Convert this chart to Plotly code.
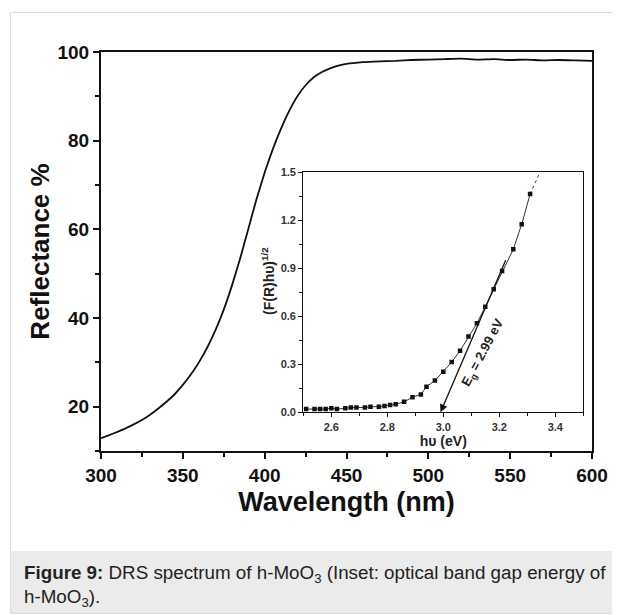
import plotly.graph_objects as go

# ---------------- data ----------------
wavelength = [300, 305, 310, 315, 320, 325, 330, 335, 340, 345, 350, 355, 360, 365,
              370, 375, 380, 385, 390, 395, 400, 405, 410, 415, 420, 425, 430, 435,
              440, 445, 450, 460, 470, 480, 490, 500, 510, 520, 530, 540, 550, 560,
              570, 580, 590, 600]
reflectance = [12.9, 13.6, 14.3, 15.1, 16.0, 17.0, 18.2, 19.6, 21.1, 22.8, 24.9, 27.3,
               30.1, 33.4, 37.3, 41.9, 47.3, 53.4, 60.1, 66.8, 72.8, 78.1, 82.7, 86.7,
               90.0, 92.5, 94.3, 95.5, 96.3, 96.9, 97.3, 97.7, 97.9, 98.0, 98.2, 98.3,
               98.4, 98.5, 98.3, 98.4, 98.2, 98.3, 98.1, 98.2, 98.1, 98.0]

photon_energy = [2.51, 2.54, 2.56, 2.58, 2.60, 2.62, 2.65, 2.67, 2.69, 2.72, 2.74, 2.77,
                 2.79, 2.81, 2.83, 2.86, 2.89, 2.92, 2.94, 2.97, 3.00, 3.03, 3.06, 3.09,
                 3.12, 3.15, 3.18, 3.21, 3.25, 3.28, 3.31]
kubelka = [0.02, 0.02, 0.02, 0.02, 0.025, 0.02, 0.025, 0.03, 0.03, 0.03, 0.035, 0.035,
           0.04, 0.045, 0.05, 0.066, 0.094, 0.112, 0.16, 0.198, 0.254, 0.314, 0.385,
           0.473, 0.556, 0.66, 0.769, 0.883, 1.019, 1.175, 1.364]
curve_end_energy = [3.31, 3.345]
curve_end_value = [1.364, 1.5]

tangent_energy = [2.99, 3.225]
tangent_value = [0.0, 0.96]
gap_label = "E<sub>g</sub> = 2.99 eV"

main_x_ticks = [300, 350, 400, 450, 500, 550, 600]
main_y_ticks = [20, 40, 60, 80, 100]
inset_x_ticks = [2.6, 2.8, 3.0, 3.2, 3.4]
inset_y_ticks = [0.0, 0.3, 0.6, 0.9, 1.2, 1.5]

# ---------------- figure ----------------
# the page body has an 8px margin, so the figure is drawn 8px in from the window corner
OFF = 8
WIN_W, WIN_H = 620, 615
W, H = WIN_W - OFF, WIN_H - OFF
# plot area in window pixels
X0, X1, Y0, Y1 = 101, 592, 52, 451
L, R, T, B = X0 - OFF, W - (X1 - OFF), Y0 - OFF, H - (Y1 - OFF)
pw, ph = W - L - R, H - T - B

def px(x):
    return (x - OFF - L) / pw

def py(y):
    return (H - B - (y - OFF)) / ph

FONT = "Liberation Sans, Arial, sans-serif"
INK = "#111111"

fig = go.Figure()

fig.add_trace(go.Scatter(x=wavelength, y=reflectance, mode="lines",
                         line=dict(color=INK, width=1.8, shape="spline", smoothing=0.4),
                         xaxis="x", yaxis="y", showlegend=False, hoverinfo="skip"))

fig.add_trace(go.Scatter(x=curve_end_energy, y=curve_end_value, mode="lines",
                         line=dict(color="#444", width=1, dash="dot"),
                         xaxis="x2", yaxis="y2", showlegend=False, hoverinfo="skip"))
fig.add_trace(go.Scatter(x=photon_energy, y=kubelka, mode="lines+markers",
                         line=dict(color="#333", width=1),
                         marker=dict(symbol="square", size=4.5, color=INK),
                         xaxis="x2", yaxis="y2", showlegend=False, hoverinfo="skip"))

# tangent line with arrow
fig.add_annotation(x=tangent_energy[0], y=tangent_value[0], ax=tangent_energy[1], ay=tangent_value[1],
                   xref="x2", yref="y2", axref="x2", ayref="y2", text="",
                   showarrow=True, arrowhead=2, arrowsize=1.2, arrowwidth=1.3, arrowcolor=INK)
fig.add_annotation(x=3.14, y=0.37, xref="x2", yref="y2", text=gap_label, showarrow=False,
                   textangle=-62, font=dict(family=FONT, size=13, color="#222", weight="bold"))

# inset y title, placed as in the reference (a little above the axis centre)
fig.add_annotation(xref="paper", yref="paper", x=px(268), y=py(281), xanchor="center", yanchor="middle",
                   showarrow=False, textangle=-90, text="(F(R)hυ)<sup>1/2</sup>",
                   font=dict(family=FONT, size=14, color="#222", weight="bold"))

# main axes
fig.update_layout(
    width=W, height=H, margin=dict(l=L, r=R, t=T, b=B, autoexpand=False),
    paper_bgcolor="white", plot_bgcolor="white",
    xaxis=dict(domain=[0, 1], range=[300, 600], tickvals=main_x_ticks, automargin=False,
               showgrid=False, zeroline=False, showline=True, linecolor=INK, linewidth=2,
               mirror=True, ticks="outside", ticklen=6, tickwidth=2, tickcolor=INK,
               minor=dict(dtick=25, tick0=300, ticks="outside", ticklen=4, tickwidth=2, tickcolor=INK),
               tickfont=dict(family=FONT, size=19, color=INK, weight="bold"),
               title=dict(text="Wavelength (nm)", font=dict(family=FONT, size=27, color=INK, weight="bold"),
                          standoff=7)),
    yaxis=dict(domain=[0, 1], range=[10, 100], tickvals=main_y_ticks, automargin=False,
               showgrid=False, zeroline=False, showline=True, linecolor=INK, linewidth=2,
               mirror=True, ticks="outside", ticklen=6, tickwidth=2, tickcolor=INK,
               minor=dict(dtick=10, tick0=0, ticks="outside", ticklen=4, tickwidth=2, tickcolor=INK),
               tickfont=dict(family=FONT, size=19, color=INK, weight="bold"),
               title=dict(text="Reflectance %", font=dict(family=FONT, size=26, color=INK, weight="bold"),
                          standoff=0)),
    xaxis2=dict(domain=[px(303.3), px(583.3)], anchor="y2", range=[2.5, 3.5], tickvals=inset_x_ticks,
                ticktext=["2.6", "2.8", "3.0", "3.2", "3.4"], automargin=False,
                showgrid=False, zeroline=False, showline=True, linecolor=INK, linewidth=1.3,
                mirror=True, ticks="outside", ticklen=4, tickwidth=1.2, tickcolor=INK,
                minor=dict(dtick=0.1, tick0=2.5, ticks="outside", ticklen=3, tickwidth=1.2, tickcolor=INK),
                tickfont=dict(family=FONT, size=11, color="#333", weight="bold"),
                title=dict(text="hυ (eV)", font=dict(family=FONT, size=14, color="#222", weight="bold"),
                           standoff=2)),
    yaxis2=dict(domain=[py(412.3), py(172.3)], anchor="x2", range=[0, 1.5], tickvals=inset_y_ticks,
                ticktext=["0.0", "0.3", "0.6", "0.9", "1.2", "1.5"], automargin=False,
                showgrid=False, zeroline=False, showline=True, linecolor=INK, linewidth=1.3,
                mirror=True, ticks="outside", ticklen=4, tickwidth=1.2, tickcolor=INK,
                minor=dict(dtick=0.15, tick0=0, ticks="outside", ticklen=3, tickwidth=1.2, tickcolor=INK),
                tickfont=dict(family=FONT, size=11, color="#333", weight="bold")),
)

# outer frame and caption band
fig.add_shape(type="rect", xref="paper", yref="paper", x0=px(10.5), x1=px(640), y0=py(613.5), y1=py(12.5),
              line=dict(color="#dcdcdc", width=1), fillcolor="rgba(0,0,0,0)", layer="below")
fig.add_shape(type="rect", xref="paper", yref="paper", x0=px(11), x1=px(640), y0=py(613), y1=py(551),
              line=dict(width=0), fillcolor="#ebebeb", layer="below")

fig.add_annotation(xref="paper", yref="paper", x=px(22), y=py(574), xanchor="left", yanchor="middle",
                   showarrow=False, align="left",
                   text="<b>Figure 9:</b> DRS spectrum of h-MoO<sub>3</sub> (Inset: optical band gap energy of",
                   font=dict(family=FONT, size=18.8, color="#222"))
fig.add_annotation(xref="paper", yref="paper", x=px(22), y=py(598), xanchor="left", yanchor="middle",
                   showarrow=False, align="left",
                   text="h-MoO<sub>3</sub>).",
                   font=dict(family=FONT, size=18.8, color="#222"))

fig.write_html("out.html")
